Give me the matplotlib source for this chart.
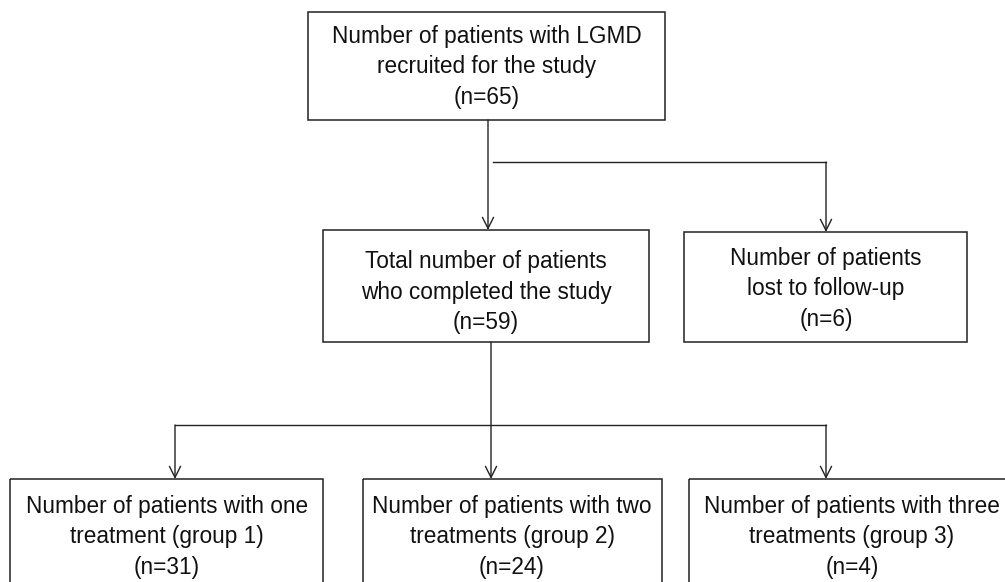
import matplotlib
matplotlib.use('Agg')
import matplotlib.pyplot as plt
from matplotlib.patches import Rectangle

plt.rcParams['font.family'] = ['Liberation Sans', 'DejaVu Sans']

# box labels and counts
labels = ['Number of patients with LGMD\nrecruited for the study',
          'Total number of patients\nwho completed the study',
          'Number of patients\nlost to follow-up',
          'Number of patients with one\ntreatment (group 1)',
          'Number of patients with two\ntreatments (group 2)',
          'Number of patients with three\ntreatments (group 3)']
counts = [65, 59, 6, 31, 24, 4]

# box geometry in pixels (left, top, right, bottom), text centre
boxes = [(308, 12, 665, 120),
         (323, 230, 649, 342),
         (684, 232, 967, 342),
         (10, 479, 323, 620),
         (363, 479, 662, 620),
         (689, 479, 1015, 620)]
text_x = [487, 486, 826, 167, 512, 852]
text_y = [67, 292, 289, 537, 537, 537]

fig = plt.figure(figsize=(10.05, 5.82), dpi=100)
ax = fig.add_axes([0, 0, 1, 1])
ax.set_xlim(0, 1005)
ax.set_ylim(582, 0)
ax.axis('off')

for (l, t, r, b), lab, n, tx, ty in zip(boxes, labels, counts, text_x, text_y):
    ax.add_patch(Rectangle((l, t), r - l, b - t, fill=False, edgecolor='#222222', lw=1.1))
    ax.text(tx, ty, lab + '\n(n=' + str(n) + ')', ha='center', va='center',
            fontsize=16.3, linespacing=1.42, color='#111111')

arr = dict(arrowstyle='->,head_length=0.8,head_width=0.4', lw=1, color='#222222',
           shrinkA=0, shrinkB=0)
line_kw = dict(color='#222222', lw=1)

# top box to middle box
ax.annotate('', xy=(488, 230), xytext=(488, 120), arrowprops=arr)
# branch to lost to follow-up
ax.plot([493, 826], [162, 162], **line_kw)
ax.annotate('', xy=(826, 232), xytext=(826, 162), arrowprops=arr)

# middle box to the three groups
ax.annotate('', xy=(491, 479), xytext=(491, 342), arrowprops=arr)
ax.plot([175, 826], [425, 425], **line_kw)
ax.annotate('', xy=(175, 479), xytext=(175, 425), arrowprops=arr)
ax.annotate('', xy=(826, 479), xytext=(826, 425), arrowprops=arr)

fig.savefig('out.png', dpi=100, facecolor='white')
